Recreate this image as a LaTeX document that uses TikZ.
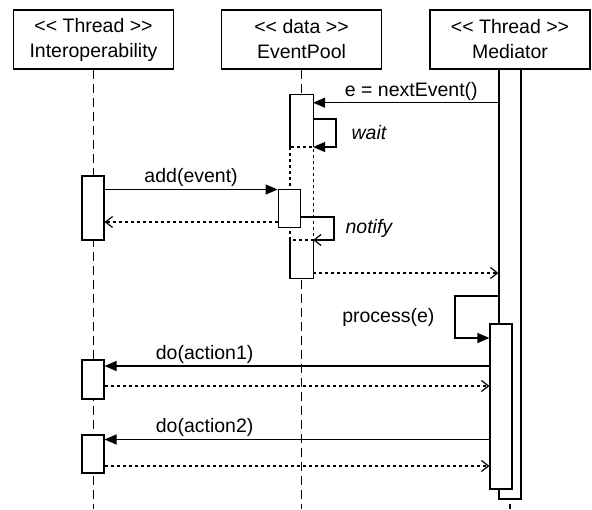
\documentclass[tikz,border=0pt]{standalone}
\usepackage{fontspec}
\setmainfont{Liberation Sans}
\usetikzlibrary{arrows.meta}

\newcommand{\stereo}[1]{<\kern0pt< #1 >\kern0pt>}

\tikzset{
    head/.style={draw, line width=1.2pt, minimum width=160pt, minimum height=59pt,
        align=center, inner sep=0pt, font=\fontsize{19.5}{25}\selectfont},
    bar/.style={draw, fill=white, line width=1.2pt, minimum width=22pt, inner sep=0pt},
    life/.style={line width=1.2pt, dash pattern=on 9pt off 5pt},
    call/.style={line width=1.2pt, -{Triangle[length=12pt,width=10pt]}},
    ret/.style={line width=1.2pt, dash pattern=on 3pt off 3pt,
        -{Straight Barb[length=7pt,width=11pt]}},
    lbl/.style={font=\fontsize{19.5}{25}\selectfont, inner sep=2pt},
}

\begin{document}
\begin{tikzpicture}[x=1pt, y=1pt, yscale=-1]
    \useasboundingbox (0,0) rectangle (592,509);

    % Define the positions of the heads
    \coordinate (ioPos) at (93.5, 39.5);
    \coordinate (poolPos) at (301.5, 39.5);
    \coordinate (medPos) at (510, 39.5);
    \coordinate (bottom) at (0, 509);

    % Define the positions of the messages
    \coordinate (nextY) at (0, 102.7);
    \coordinate (waitA) at (336, 119);
    \coordinate (waitB) at (336, 147);
    \coordinate (addY) at (0, 189.5);
    \coordinate (addRetY) at (0, 222);
    \coordinate (notifyA) at (334, 217);
    \coordinate (notifyB) at (334, 240);
    \coordinate (poolRetY) at (0, 273);
    \coordinate (procA) at (455, 296);
    \coordinate (procB) at (455, 338);
    \coordinate (do1Y) at (0, 366);
    \coordinate (do1RetY) at (0, 386);
    \coordinate (do2Y) at (0, 439.5);
    \coordinate (do2RetY) at (0, 466);

    % Draw the heads
    \node[head] (io) at (ioPos) {\stereo{Thread}\\Interoperability};
    \node[head] (pool) at (poolPos) {\stereo{data}\\EventPool};
    \node[head] (med) at (medPos) {\stereo{Thread}\\Mediator};

    % Draw the lifelines
    \draw[life] (io.south) -- (io.south |- bottom);
    \draw[life] (pool.south) -- (pool.south |- bottom);
    \draw[life] (med.south) -- (med.south |- bottom);

    % Draw the activations
    \node[bar, minimum height=430pt] (med0) at (510, 284) {};
    \node[bar, draw=none, minimum height=183pt] (pool0) at (301.5, 186.5) {};
    \draw[line width=1.2pt] (pool0.west |- waitB) |- (pool0.north east) -- (pool0.east |- waitB);
    \draw[line width=1.2pt] (pool0.west |- notifyB) |- (pool0.south east) -- (pool0.east |- notifyB);
    \draw[line width=1.2pt, dash pattern=on 3pt off 3pt] (pool0.west |- waitB) rectangle (pool0.east |- notifyB);
    \node[bar, minimum height=38pt] (pool1) at (289.2, 208.3) {};
    \node[bar, minimum height=64pt] (io1) at (93, 208) {};
    \node[bar, minimum height=165pt] (med1) at (501, 406.5) {};
    \node[bar, minimum height=39pt] (io2) at (93, 379.5) {};
    \node[bar, minimum height=38pt] (io3) at (93, 454) {};

    % Draw the messages
    \draw[call] (med0.west |- nextY) -- node[lbl, above, pos=0.47] {e = nextEvent()} (pool0.east |- nextY);
    \draw[call] (pool0.east |- waitA) -- (waitA) -- node[lbl, right=13pt] {\textit{wait}} (waitB) -- (pool0.east |- waitB);
    \draw[call] (io1.east |- addY) -- node[lbl, above] {add(event)} (pool1.west |- addY);
    \draw[ret] (pool1.west |- addRetY) -- (io1.east |- addRetY);
    \draw[ret, solid] (pool1.east |- notifyA) -- (notifyA) -- node[lbl, right=9pt] {\textit{notify}} (notifyB) -- (pool0.east |- notifyB);
    \draw[ret] (pool0.east |- poolRetY) -- (med0.west |- poolRetY);
    \draw[call] (med0.west |- procA) -- (procA) -- node[lbl, left=18pt] {process(e)} (procB) -- (med1.west |- procB);
    \draw[call] (med1.west |- do1Y) -- node[lbl, above, pos=0.74] {do(action1)} (io2.east |- do1Y);
    \draw[ret] (io2.east |- do1RetY) -- (med1.west |- do1RetY);
    \draw[call] (med1.west |- do2Y) -- node[lbl, above, pos=0.74] {do(action2)} (io3.east |- do2Y);
    \draw[ret] (io3.east |- do2RetY) -- (med1.west |- do2RetY);
\end{tikzpicture}
\end{document}
